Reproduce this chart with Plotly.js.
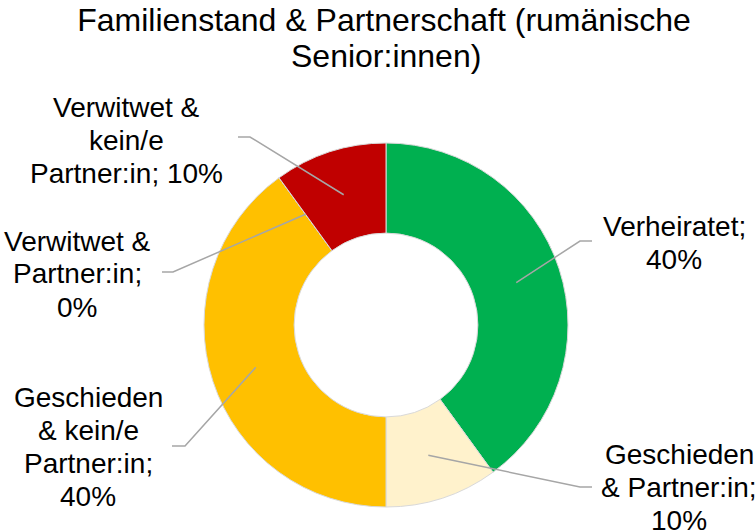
<!DOCTYPE html>
<html>
<head>
<meta charset="utf-8">
<script src="https://cdn.plot.ly/plotly-3.0.1.min.js"></script>
<style>html,body{margin:0;padding:0;background:#fff;}#chart{width:756px;height:531px;}</style>
</head>
<body>
<div id="chart"></div>
<script>
const categories = [
  "Verheiratet",
  "Geschieden & Partner:in",
  "Geschieden & kein/e Partner:in",
  "Verwitwet & Partner:in",
  "Verwitwet & kein/e Partner:in"
];
const values = [40, 10, 40, 0, 10];
const labelLines = [
  ["Verheiratet;", "40%"],
  ["Geschieden", "& Partner:in;", "10%"],
  ["Geschieden", "& kein/e", "Partner:in;", "40%"],
  ["Verwitwet &", "Partner:in;", "0%"],
  ["Verwitwet &", "kein/e", "Partner:in; 10%"]
];
const titleLines = ["Familienstand & Partnerschaft (rumänische", "Senior:innen)"];
const colors = ["#00B050", "#FFF2CC", "#FFC000", "#C00000", "#C00000"];

const W = 756, H = 531;
const cx = 386, cy = 325, R = 182, hole = 0.505;
const FONT = "Liberation Sans, Arial, sans-serif";
const LABEL_SIZE = 28, LABEL_GAP = 33, TITLE_SIZE = 32;
// label layout (pixel positions): text block center, line start, elbow
const labelPos = [
  {tx: 674, ty: 243, lx: 592, ly: 241, ex: 580, ey: 241},
  {tx: 679, ty: 487, lx: 592, ly: 487, ex: 580, ey: 487},
  {tx: 88,  ty: 447, lx: 172, ly: 446, ex: 185, ey: 446},
  {tx: 77,  ty: 274, lx: 162, ly: 272, ex: 173, ey: 272},
  {tx: 126, ty: 140, lx: 238, ly: 137, ex: 250, ey: 137}
];
const px = x => x / W;
const py = y => 1 - y / H;

const total = values.reduce((a, b) => a + b, 0);
const rMid = R * (1 + hole) / 2;
let cum = 0;
const shapes = [], annotations = [];
values.forEach((v, i) => {
  const th = 2 * Math.PI * (cum + v / 2) / total;
  cum += v;
  const sx = cx + rMid * Math.sin(th), sy = cy - rMid * Math.cos(th);
  const p = labelPos[i];
  shapes.push({
    type: "path", xref: "paper", yref: "paper",
    path: `M ${px(p.lx)} ${py(p.ly)} L ${px(p.ex)} ${py(p.ey)} L ${px(sx)} ${py(sy)}`,
    line: {color: "#A6A6A6", width: 1.5}
  });
  const lines = labelLines[i];
  lines.forEach((t, k) => {
    annotations.push({
      xref: "paper", yref: "paper", x: px(p.tx), y: py(p.ty + (k - (lines.length - 1) / 2) * LABEL_GAP),
      xanchor: "center", yanchor: "middle", align: "center",
      text: t, showarrow: false,
      font: {family: FONT, size: LABEL_SIZE, color: "#000"}
    });
  });
});

// second title line
annotations.push({
  xref: "paper", yref: "paper", x: px(386), y: py(56),
  xanchor: "center", yanchor: "middle", text: titleLines[1], showarrow: false,
  font: {family: FONT, size: TITLE_SIZE, color: "#000"}
});

const trace = {
  type: "pie",
  labels: categories,
  values: values,
  sort: false,
  direction: "clockwise",
  rotation: 0,
  hole: hole,
  textinfo: "none",
  marker: {colors: colors, line: {color: "#D9D9D9", width: 1}},
  domain: {x: [px(cx - R), px(cx + R)], y: [py(cy + R), py(cy - R)]},
  showlegend: false
};

const layout = {
  width: W, height: H,
  margin: {l: 0, r: 0, t: 0, b: 0},
  paper_bgcolor: "#fff",
  title: {
    text: titleLines[0],
    font: {family: FONT, size: TITLE_SIZE, color: "#000"},
    x: 384 / W, xanchor: "center", xref: "paper",
    y: 1 - 20 / H, yanchor: "middle", yref: "container"
  },
  shapes: shapes,
  annotations: annotations,
  showlegend: false
};

Plotly.newPlot("chart", [trace], layout, {displayModeBar: false, staticPlot: true});
</script>
</body>
</html>
